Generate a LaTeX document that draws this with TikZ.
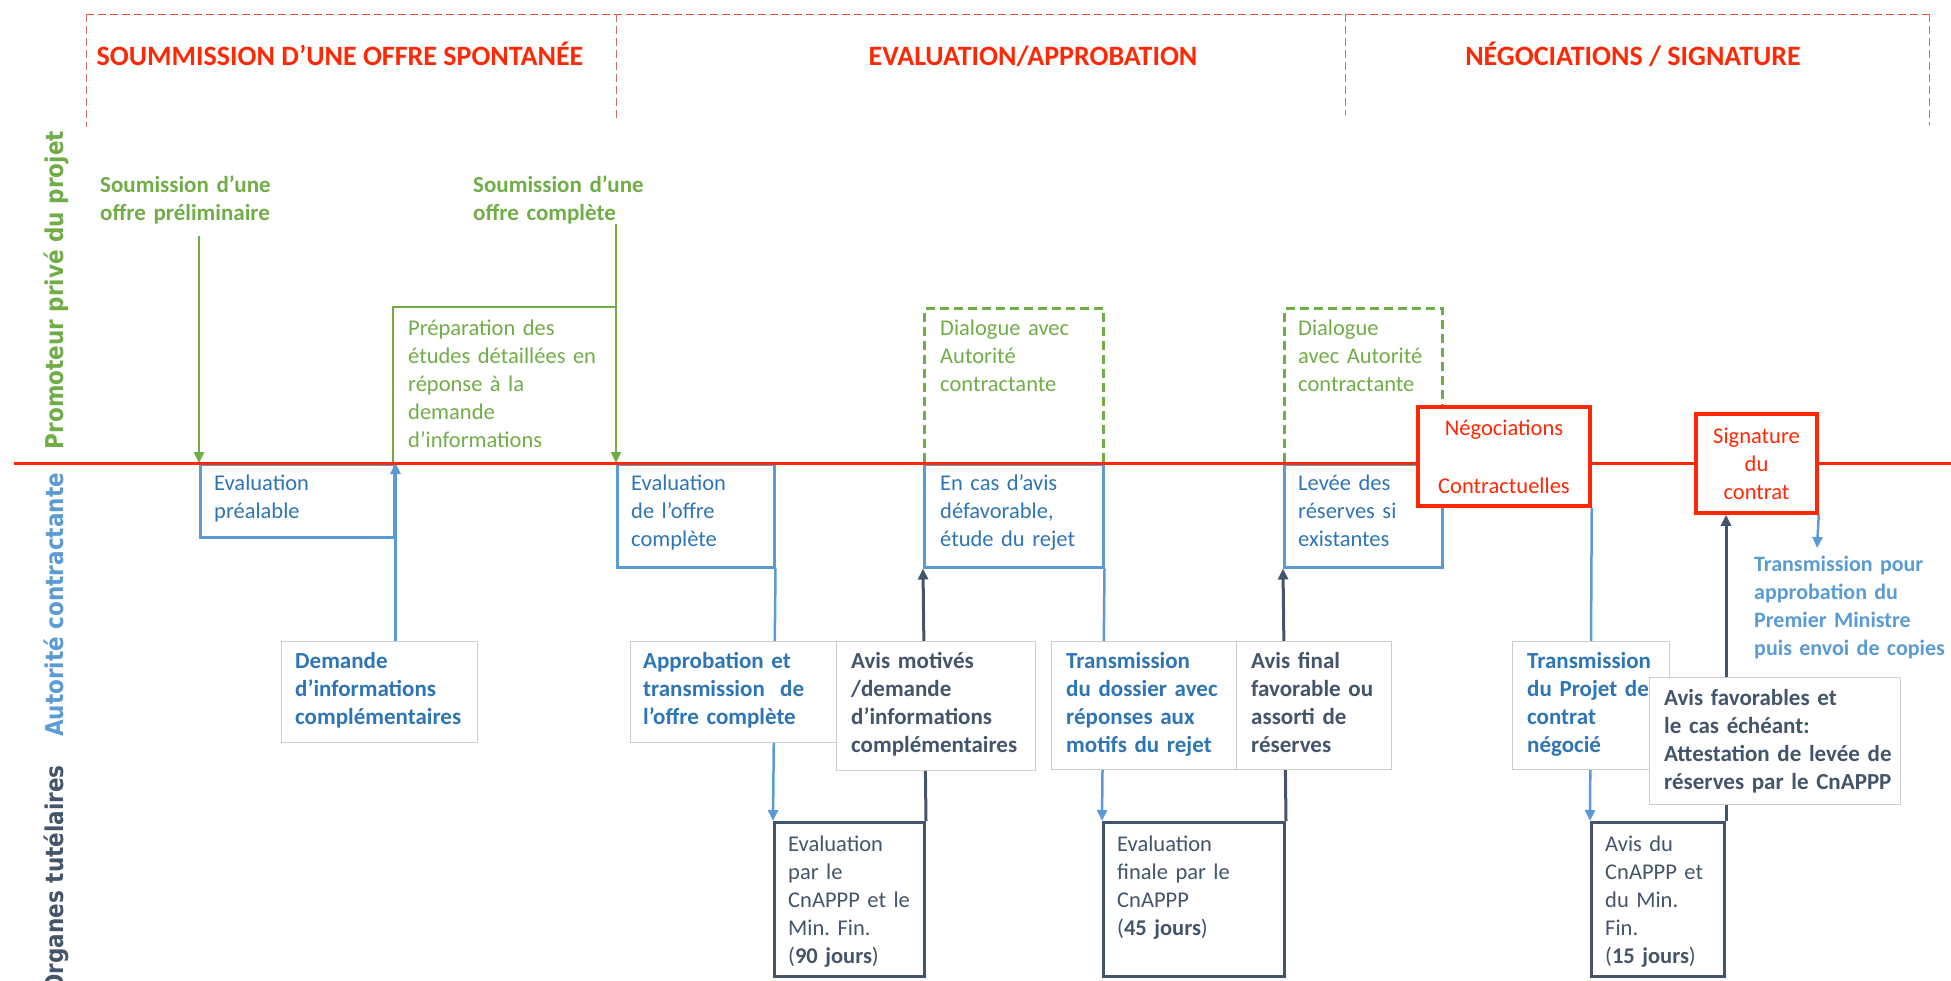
\documentclass[tikz,border=0pt]{standalone}
\usepackage{fontspec}
\setmainfont{Carlito}
\newfontfamily\lanefont[FakeStretch=0.88]{DejaVu Sans Bold}
\usetikzlibrary{arrows.meta,backgrounds}
\definecolor{vert}{RGB}{112,173,71}
\definecolor{bleu}{RGB}{91,155,213}
\definecolor{bleutexte}{RGB}{46,117,182}
\definecolor{ardoise}{RGB}{68,84,106}
\definecolor{rouge}{RGB}{255,40,5}
\definecolor{brique}{RGB}{200,110,100}
\definecolor{tirets}{RGB}{232,80,55}
\definecolor{cadre}{RGB}{205,205,205}
\tikzset{
  reg/.style={font=\fontsize{22.5}{28}\selectfont},
  gras/.style={font=\fontsize{23}{28}\selectfont\bfseries},
  dims/.style 2 args={anchor=north west, inner sep=0pt, minimum width=#1pt, minimum height=#2pt},
  txt/.style={anchor=base west, inner sep=0pt, text width=300pt, align=left},
  ouvert/.style={draw=bleu, line width=2.5pt},
  dialogue/.style={draw=vert, line width=3pt, dash pattern=on 9pt off 5pt},
  encart/.style={draw=cadre, line width=1pt, fill=white},
  organe/.style={draw=ardoise, line width=3pt, fill=white},
  etape/.style={draw=rouge, line width=3.5pt, fill=white, reg, text=rouge, align=center, inner sep=0pt},
  titre/.style={anchor=base, inner sep=0pt, text=rouge, font=\fontsize{28}{30}\selectfont\bfseries},
  lane/.style={rotate=90, anchor=base, inner sep=0pt, font=\lanefont\fontsize{24.5}{24.5}\selectfont},
  entete/.style={line width=1pt, dash pattern=on 8pt off 4pt},
  fl/.style={-{Triangle[length=11pt,width=10pt]}},
  vline/.style={draw=vert, line width=2.5pt},
  bline/.style={draw=bleu, line width=2.5pt},
  dline/.style={draw=ardoise, line width=3pt}
}
\begin{document}
\begin{tikzpicture}[x=1pt,y=-1pt]
\useasboundingbox (0,0) rectangle (1951,980);
\draw[entete, draw=tirets] (86,14) -- (1929,14);
\draw[entete, draw=brique] (86,14) -- (86,127) (616,14) -- (616,120) (1345,14) -- (1345,115) (1929,14) -- (1929,125);
\node[titre] (ph1) at (340,65) {SOUMMISSION D’UNE OFFRE SPONTANÉE};
\node[titre] (ph2) at (1033,65) {EVALUATION/APPROBATION};
\node[titre] (ph3) at (1633,65) {NÉGOCIATIONS / SIGNATURE};
\node[lane, text=vert] (ln1) at (63,290) {Promoteur privé du projet};
\node[lane, text=bleu] (ln2) at (63,605) {Autorité contractante};
\node[lane, text=ardoise, anchor=base east] (ln3) at (63,765) {Organes tutélaires};
\node[txt, gras, text=vert] (sp1) at (100,192) {Soumission d’une\\offre préliminaire};
\node[txt, gras, text=vert] (sp2) at (473,192) {Soumission d’une\\offre complète};
\coordinate (s1) at (199,236);
\coordinate (s2) at (616,224);
\node[dims={223}{156}] (prep) at (393,307) {};
\draw[vline] (prep.south west) -- (prep.north west) -- (prep.north east);
\node[txt, reg, text=vert] (prept) at ([shift={(15,28)}]prep.north west) {Préparation des\\études détaillées en\\réponse à la\\demande\\d’informations};
\node[dialogue, dims={179}{156}] (dia1) at (923,307) {};
\node[txt, reg, text=vert] (dia1t) at ([shift={(17,28)}]dia1.north west) {Dialogue avec\\Autorité\\contractante};
\node[dialogue, dims={158}{156}] (dia2) at (1283,307) {};
\node[txt, reg, text=vert] (dia2t) at ([shift={(15,28)}]dia2.north west) {Dialogue\\avec Autorité\\contractante};
\node[ouvert, dims={194}{73}] (evp) at (199,463) {};
\node[txt, reg, text=bleutexte] (evpt) at ([shift={(15,27)}]evp.north west) {Evaluation\\préalable};
\node[ouvert, dims={157}{103}] (evc) at (616,463) {};
\node[txt, reg, text=bleutexte] (evct) at ([shift={(15,27)}]evc.north west) {Evaluation\\de l’offre\\complète};
\node[ouvert, dims={179}{103}] (ecr) at (923,463) {};
\node[txt, reg, text=bleutexte] (ecrt) at ([shift={(17,27)}]ecr.north west) {En cas d’avis\\défavorable,\\étude du rejet};
\node[ouvert, dims={158}{103}] (lev) at (1283,463) {};
\node[txt, reg, text=bleutexte] (levt) at ([shift={(15,27)}]lev.north west) {Levée des\\réserves si\\existantes};
\node[encart, dims={196}{101}] (dem) at (281,641) {};
\node[txt, gras, text=bleutexte] (demt) at ([shift={(14,27.5)}]dem.north west) {Demande\\d’informations\\complémentaires};
\node[encart, dims={206}{101}] (app) at (630,641) {};
\node[txt, gras, text=bleutexte] (appt) at ([shift={(13,27.5)}]app.north west) {Approbation et\\transmission~ de\\l’offre complète};
\node[encart, dims={199}{129}] (avm) at (836,641) {};
\node[txt, gras, text=ardoise] (avmt) at ([shift={(15,27.5)}]avm.north west) {Avis motivés\\/demande\\d’informations\\complémentaires};
\node[encart, dims={185}{128}] (trd) at (1051,641) {};
\node[txt, gras, text=bleutexte] (trdt) at ([shift={(15,27.5)}]trd.north west) {Transmission\\du dossier avec\\réponses aux\\motifs du rejet};
\node[encart, dims={155}{128}] (avf) at (1236,641) {};
\node[txt, gras, text=ardoise] (avft) at ([shift={(15,27.5)}]avf.north west) {Avis final\\favorable ou\\assorti de\\réserves};
\node[encart, dims={157}{128}] (trp) at (1512,641) {};
\node[txt, gras, text=bleutexte] (trpt) at ([shift={(15,27.5)}]trp.north west) {Transmission\\du Projet de\\contrat\\négocié};
\node[encart, dims={251}{127}] (afs) at (1649,677) {};
\node[txt, gras, text=ardoise] (afst) at ([shift={(15,28)}]afs.north west) {Avis favorables et\\le cas échéant:\\Attestation de levée de\\réserves par le CnAPPP};
\node[organe, dims={150}{154}] (evm) at (773,821) {};
\node[txt, reg, text=ardoise] (evmt) at ([shift={(15,30)}]evm.north west) {Evaluation\\par le\\CnAPPP et le\\Min.\ Fin.\\(\textbf{90 jours})};
\node[organe, dims={181}{154}] (evf) at (1102,821) {};
\node[txt, reg, text=ardoise] (evft) at ([shift={(15,30)}]evf.north west) {Evaluation\\finale par le\\CnAPPP\\(\textbf{45 jours})};
\node[organe, dims={133}{154}] (avc) at (1590,821) {};
\node[txt, reg, text=ardoise] (avct) at ([shift={(15,30)}]avc.north west) {Avis du\\CnAPPP et\\du Min.\\Fin.\\(\textbf{15 jours})};
\draw[draw=rouge, line width=3pt] (14,463) -- (1951,463);
\node[etape, minimum width=172pt, minimum height=99pt] (neg) at (1504,456.5) {Négociations\\[30pt]Contractuelles};
\node[etape, minimum width=121pt, minimum height=99pt] (sig) at (1756.5,463.5) {Signature\\du\\contrat};
\coordinate (t1) at (1817,548);
\node[txt, text=bleu, font=\fontsize{22}{28}\selectfont\bfseries] (tpm) at (1754,571.5) {Transmission pour\\approbation du\\Premier Ministre\\puis envoi de copies};
\begin{scope}[on background layer]
\draw[vline, fl] (s1) -- (evp.north west);
\draw[vline, fl] (s2) -- (evc.north west);
\draw[bline, fl] (evp.east |- dem.north) -- (evp.north east);
\draw[bline, fl] (evc.south east) -- (evm.north west);
\draw[dline, fl] (evm.north east) -- (ecr.south west);
\draw[bline, fl] (ecr.south east) -- (evf.north west);
\draw[dline, fl] (evf.north east) -- (lev.south west);
\draw[bline, fl] (neg.south east) -- (avc.north west);
\draw[dline, fl] (avc.north east) -- (avc.east |- sig.south);
\draw[bline, fl] (sig.south east) -- (t1);
\end{scope}
\end{tikzpicture}
\end{document}
